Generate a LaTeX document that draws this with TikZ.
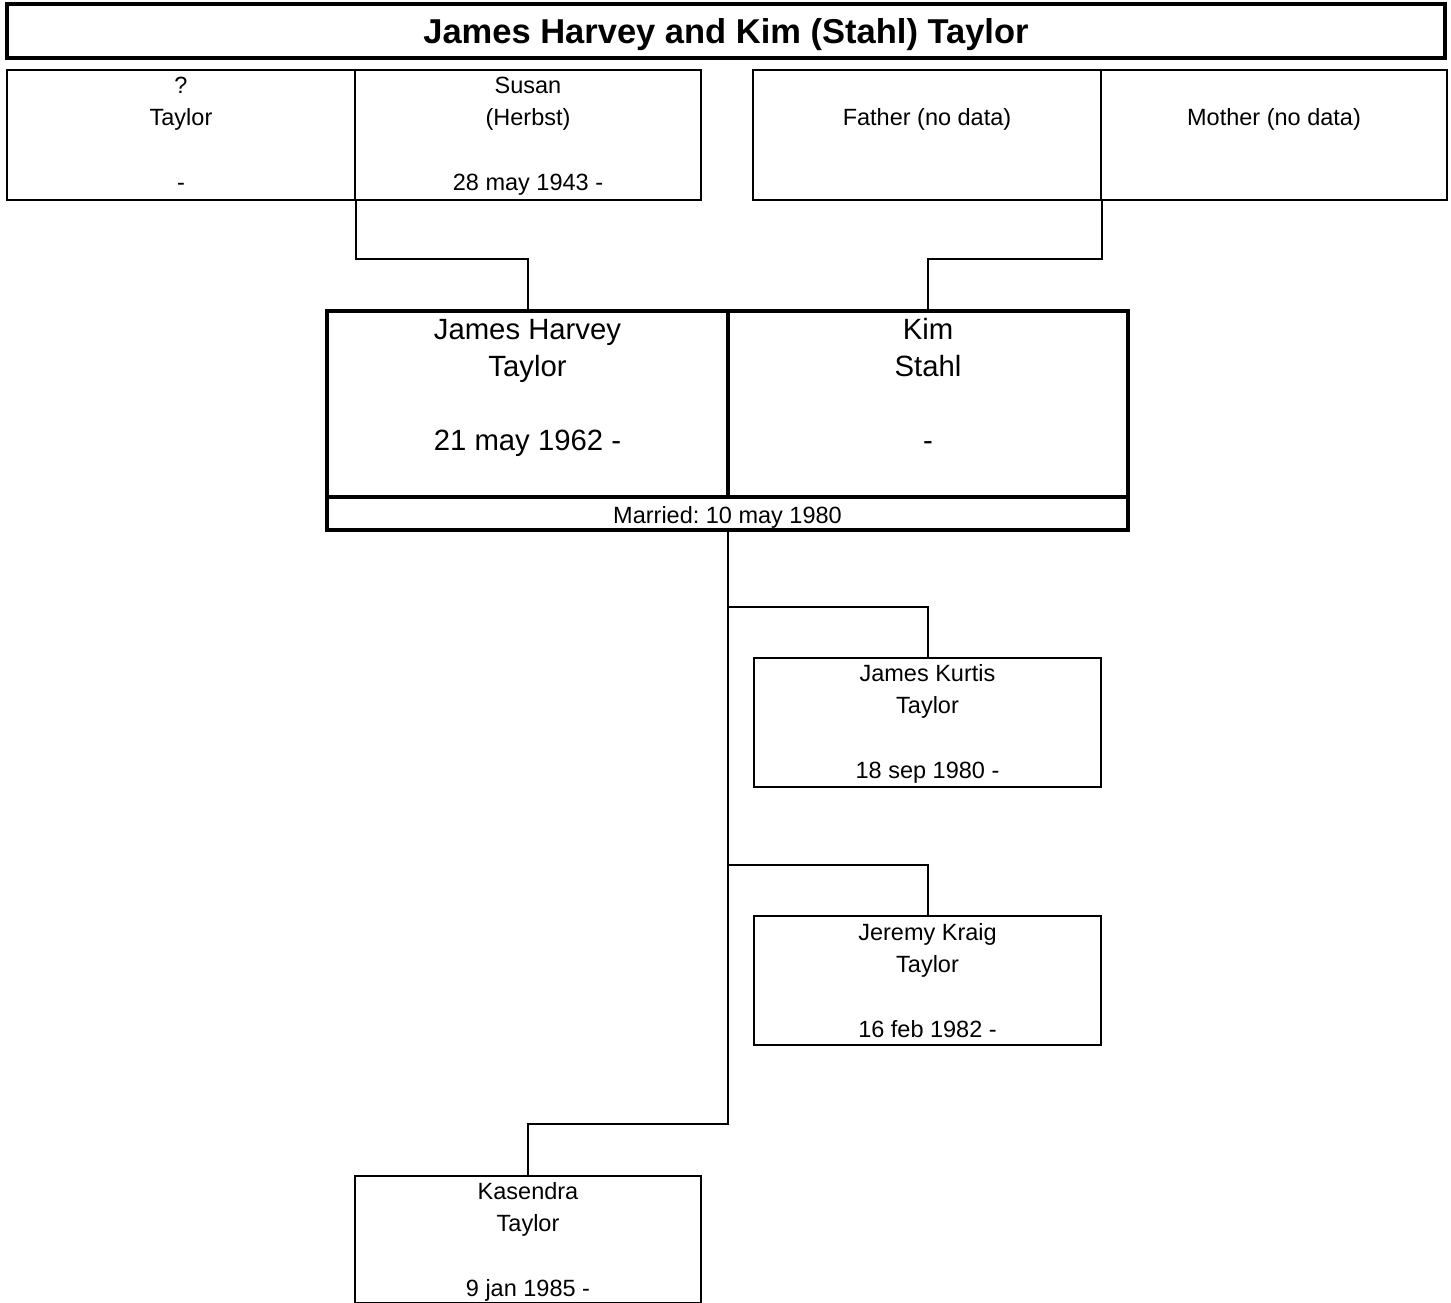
\documentclass[tikz,border=0pt]{standalone}
\usepackage{fontspec}
\setmainfont{Liberation Sans}
\frenchspacing
\newcommand\vstrut[2]{\vrule height #1 depth #2 width 0pt\relax}
\begin{document}
\begin{tikzpicture}[x=1pt,y=-1pt,
  pbox/.style={draw, line width=2pt, inner sep=0pt, align=center,
    font=\fontsize{23.5}{32}\selectfont},
  bigbox/.style={draw, line width=3.6pt, inner sep=0pt, align=center,
    font=\fontsize{29.3}{37}\selectfont},
  titlebox/.style={draw, line width=3.6pt, inner sep=0pt, align=center,
    font=\fontsize{34.5}{40}\selectfont\bfseries},
  conn/.style={draw, line width=2pt}]
\useasboundingbox (0,0) rectangle (1451,1303);
% title
\node[titlebox, minimum width=1438pt, minimum height=54pt, text height=24.7pt, text depth=0pt] (title) at (726,31) {James Harvey and Kim (Stahl) Taylor};
% grandparents
\node[pbox, minimum width=348pt, minimum height=130pt] (ptaylor) at (181,135)
  {\vstrut{23.4pt}{9.6pt}?\\\strut Taylor\\\strut\\\vstrut{22.4pt}{8.6pt}-};
\node[pbox, minimum width=346pt, minimum height=130pt] (susan) at (528,135)
  {\vstrut{23.4pt}{9.6pt}Susan\\\strut (Herbst)\\\strut\\\vstrut{22.4pt}{8.6pt}28 may 1943 -};
\node[pbox, minimum width=348pt, minimum height=130pt] (father) at (927,135)
  {\vstrut{23.4pt}{9.6pt}\\\strut Father (no data)\\\strut\\\vstrut{22.4pt}{8.6pt}};
\node[pbox, minimum width=346pt, minimum height=130pt] (mother) at (1274,135)
  {\vstrut{23.4pt}{9.6pt}\\\strut Mother (no data)\\\strut\\\vstrut{22.4pt}{8.6pt}};
% couple
\node[bigbox, minimum width=401pt, minimum height=186pt] (jh) at (527.5,404)
  {\vstrut{28.9pt}{11.1pt}James Harvey\\\strut Taylor\\\strut\\\strut 21 may 1962 -\\\vstrut{25.9pt}{8.1pt}};
\node[bigbox, minimum width=400pt, minimum height=186pt] (kim) at (928,404)
  {\vstrut{28.9pt}{11.1pt}Kim\\\strut Stahl\\\strut\\\strut -\\\vstrut{25.9pt}{8.1pt}};
\node[bigbox, minimum width=801pt, minimum height=33pt, text height=19.8pt, text depth=0pt,
  font=\fontsize{23.5}{28}\selectfont] (marr) at (727.5,513.5)
  {Married: 10 may 1980};
% children
\node[pbox, minimum width=347pt, minimum height=128pt] (jk) at (927.5,722)
  {\vstrut{24.4pt}{9.6pt}James Kurtis\\\strut Taylor\\\strut\\\vstrut{22.4pt}{7.6pt}18 sep 1980 -};
\node[pbox, minimum width=347pt, minimum height=129pt] (jer) at (927.5,980.5)
  {\vstrut{24.4pt}{9.6pt}Jeremy Kraig\\\strut Taylor\\\strut\\\vstrut{22.4pt}{7.6pt}16 feb 1982 -};
\node[pbox, minimum width=346pt, minimum height=126pt] (kas) at (528,1239)
  {\vstrut{24.4pt}{9.6pt}Kasendra\\\strut Taylor\\\strut\\\vstrut{22.4pt}{5.6pt}9 jan 1985 -};
% connectors
\draw[conn] (ptaylor.south east) -- ++(0,58) -| (jh.north);
\draw[conn] (father.south east) -- ++(0,58) -| (kim.north);
\path (marr.south) ++(0,75) coordinate (br1);
\path (marr.south) ++(0,333) coordinate (br2);
\draw[conn] (marr.south) -- ++(0,592) -| (kas.north);
\draw[conn] (br1) -| (jk.north);
\draw[conn] (br2) -| (jer.north);
\end{tikzpicture}
\end{document}
